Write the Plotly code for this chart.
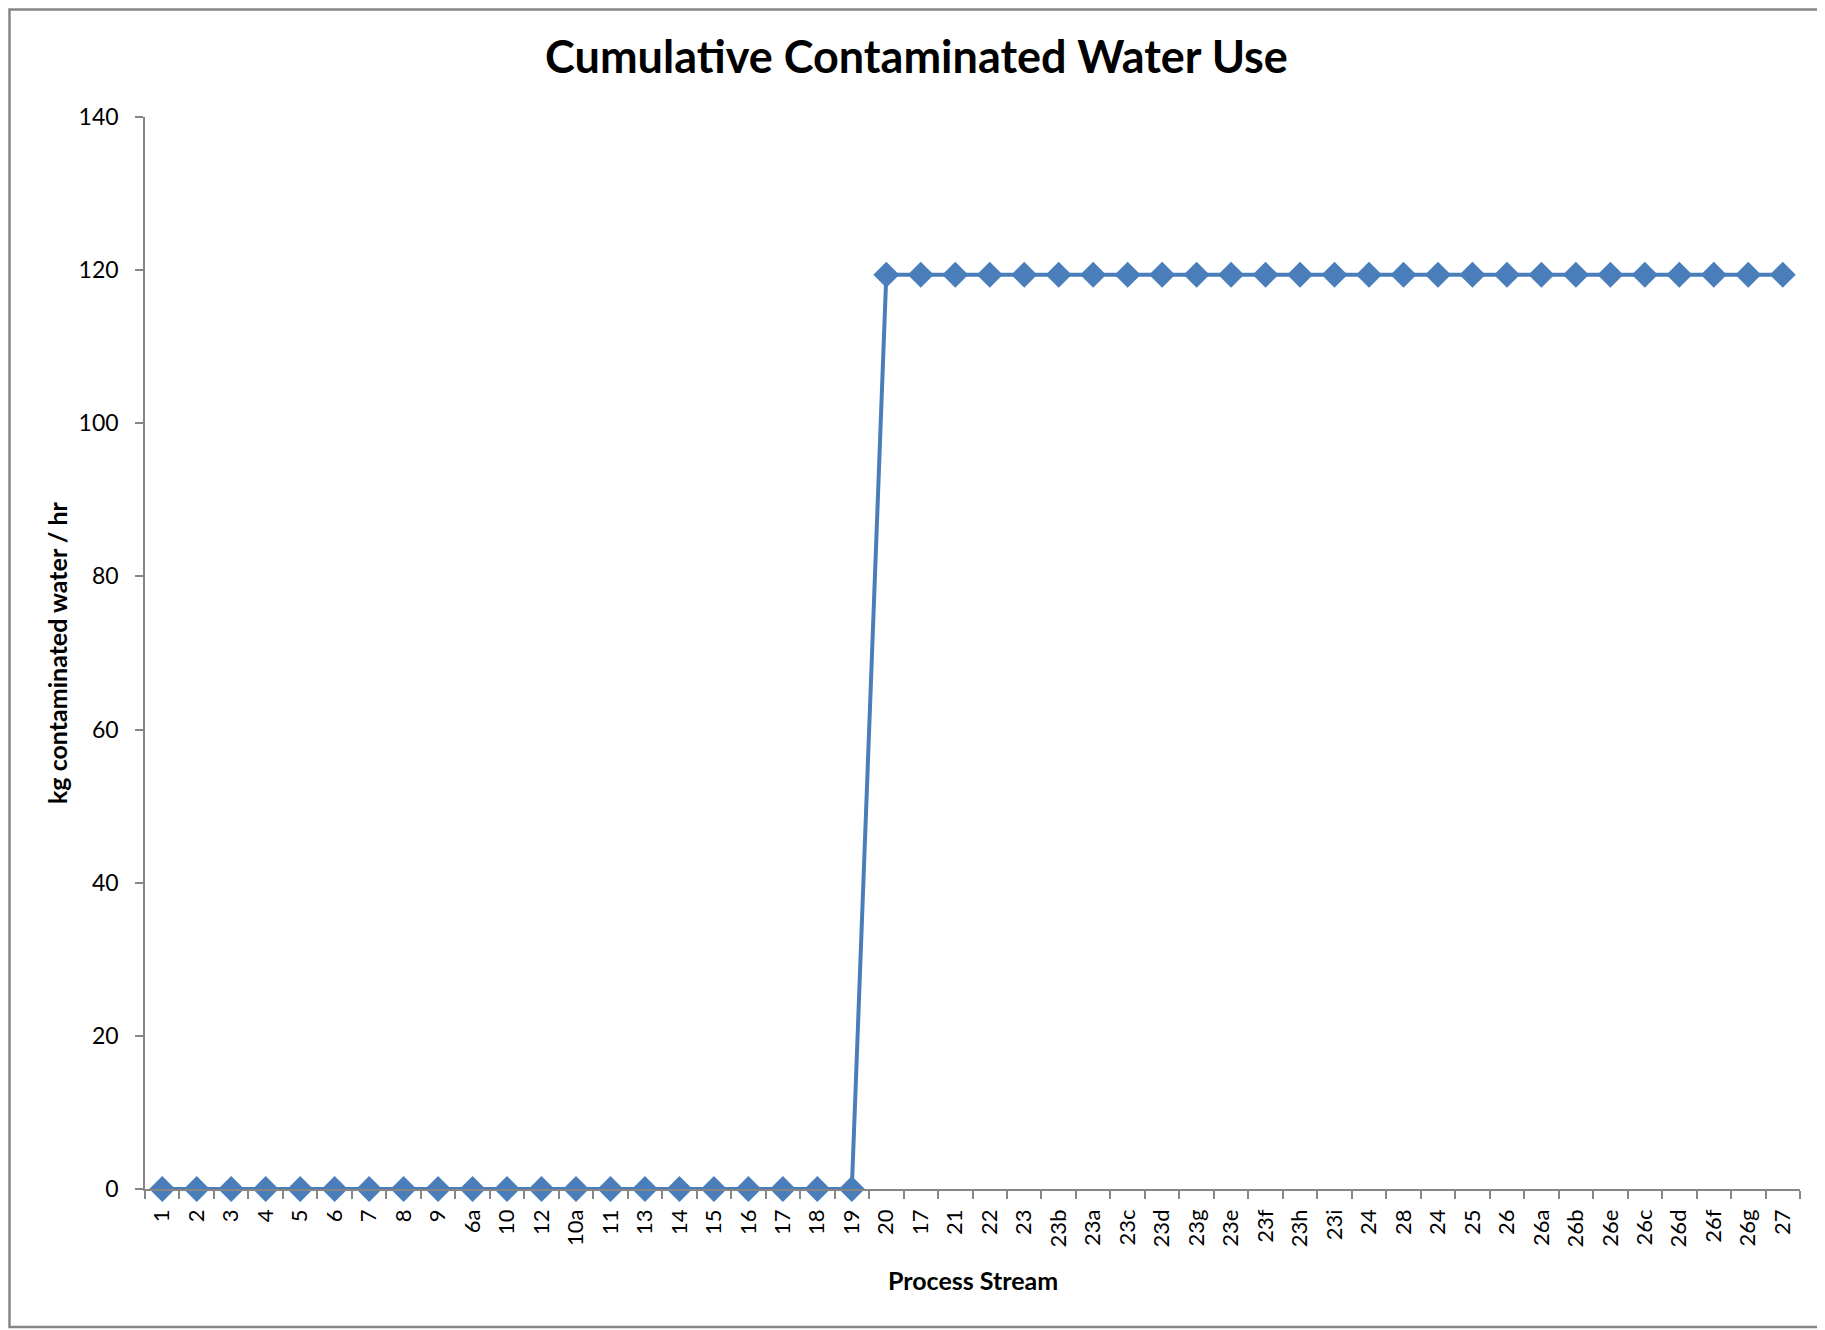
import plotly.graph_objects as go

streams = ["1", "2", "3", "4", "5", "6", "7", "8", "9", "6a", "10", "12", "10a", "11",
           "13", "14", "15", "16", "17", "18", "19", "20", "17", "21", "22", "23", "23b",
           "23a", "23c", "23d", "23g", "23e", "23f", "23h", "23i", "24", "28", "24", "25",
           "26", "26a", "26b", "26e", "26c", "26d", "26f", "26g", "27"]
water_use = [0] * 21 + [119.4] * 27
y_ticks = [0, 20, 40, 60, 80, 100, 120, 140]

positions = list(range(len(streams)))

# page body has an 8px margin, so the figure is sized/offset accordingly
W, H = 1817, 1322
L, R, T, B = 137, 25, 109, 141
pw, ph = W - L - R, H - T - B

def px_to_paper_x(px):
    return (px - L) / pw

def px_to_paper_y(py):
    return (H - B - py) / ph

blue = "#4a7ebb"
gray = "#868686"
font = "Lato, 'Open Sans', sans-serif"

fig = go.Figure()
fig.add_trace(go.Scatter(
    x=positions, y=water_use, mode="lines+markers",
    line=dict(color=blue, width=4),
    marker=dict(symbol="diamond", size=20, color=blue),
    showlegend=False, cliponaxis=False,
))

fig.update_layout(
    width=W, height=H,
    margin=dict(l=L, r=R, t=T, b=B),
    paper_bgcolor="white", plot_bgcolor="white",
    font=dict(family=font, color="#000000"),
    title=dict(text="<b>Cumulative Contaminated Water Use</b>",
               x=0.5, xref="container", xanchor="center",
               y=1 - 49 / H, yref="container", yanchor="middle",
               font=dict(size=45, family=font, color="#000000")),
    xaxis=dict(
        range=[-0.5, len(streams) - 0.5],
        tickmode="array", tickvals=positions, ticktext=streams,
        tickangle=-90, ticks="", showgrid=False, zeroline=False,
        showline=True, linecolor=gray, linewidth=1.5,
        ticklabelstandoff=10,
        tickfont=dict(size=22, family=font, color="#000000"),
        minor=dict(tickmode="array", tickvals=[p - 0.5 for p in positions] + [len(streams) - 0.5],
                   ticks="outside", ticklen=8, tickcolor=gray, tickwidth=1.5, showgrid=False),
    ),
    yaxis=dict(
        range=[0, 140], tickmode="array", tickvals=y_ticks,
        ticks="outside", ticklen=8, tickcolor=gray, tickwidth=1.5,
        ticklabelstandoff=12,
        showgrid=False, zeroline=False, showline=True, linecolor=gray, linewidth=1.5,
        tickfont=dict(size=23, family=font, color="#000000"),
    ),
    annotations=[
        dict(text="<b>kg contaminated water / hr</b>", textangle=-90,
             xref="paper", yref="paper", x=px_to_paper_x(49), y=0.5,
             xanchor="center", yanchor="middle", showarrow=False,
             font=dict(size=25, family=font, color="#000000")),
        dict(text="<b>Process Stream</b>",
             xref="paper", yref="paper", x=0.5, y=px_to_paper_y(1272),
             xanchor="center", yanchor="middle", showarrow=False,
             font=dict(size=25, family=font, color="#000000")),
    ],
    shapes=[dict(type="rect", xref="paper", yref="paper",
                 x0=px_to_paper_x(1.5), x1=px_to_paper_x(1813),
                 y0=px_to_paper_y(1319), y1=px_to_paper_y(1.5),
                 line=dict(color=gray, width=2.5), fillcolor="rgba(0,0,0,0)", layer="below")],
)

fig.write_html("out.html")
